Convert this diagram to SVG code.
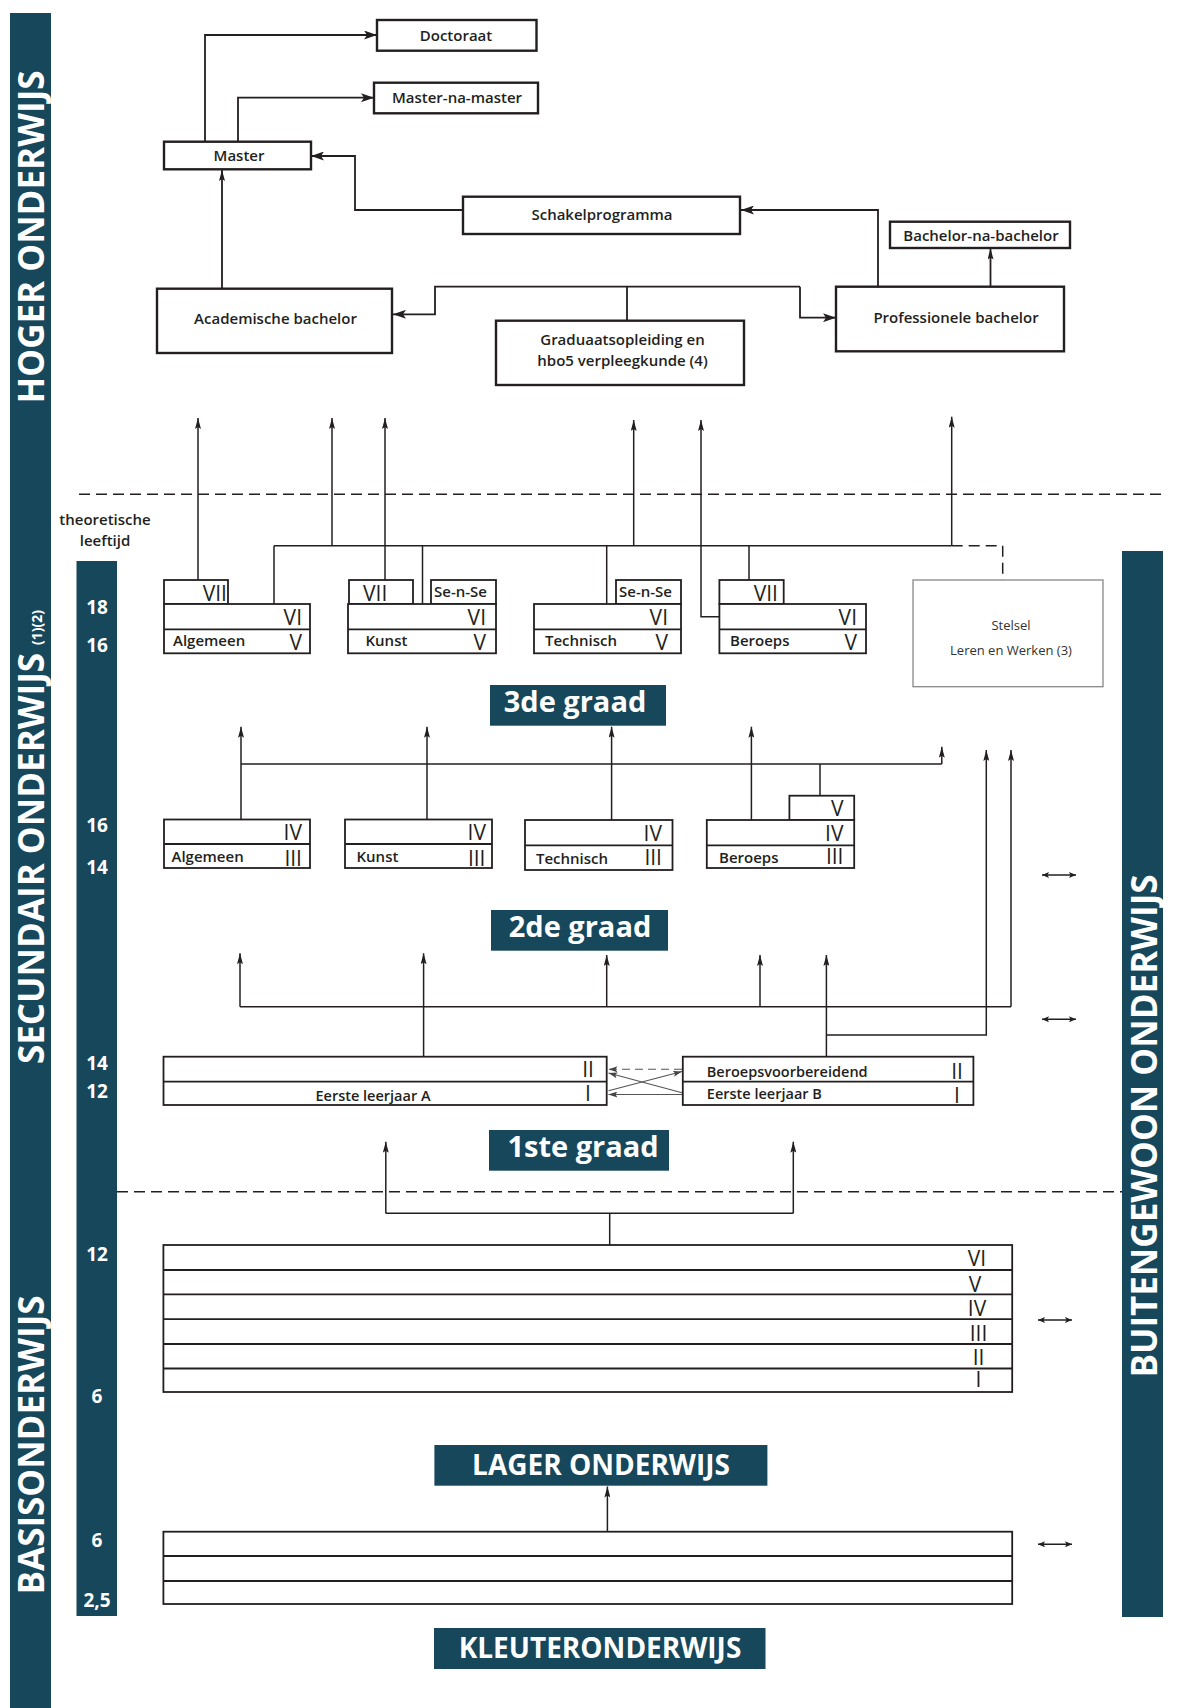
<svg xmlns="http://www.w3.org/2000/svg" width="1177" height="1708" viewBox="0 0 1177 1708">
<defs>
<style>
.bar{fill:#17475b}
.side{font-family:"Open Sans","Liberation Sans",sans-serif;font-weight:700;font-size:35px;fill:#fff}
.age{font-family:"Open Sans","Liberation Sans",sans-serif;font-weight:700;font-size:19px;fill:#fff;text-anchor:middle}
.big{font-family:"Open Sans","Liberation Sans",sans-serif;font-weight:700;font-size:29px;fill:#fff;text-anchor:middle}
.cap{font-family:"Open Sans","Liberation Sans",sans-serif;font-weight:700;font-size:28px;fill:#fff;text-anchor:middle}
.t{font-family:"Open Sans","Liberation Sans",sans-serif;font-weight:600;font-size:15px;fill:#231f20}
.tm{text-anchor:middle}
.s14{font-size:14.5px}
.rn{font-family:"Open Sans","Liberation Sans",sans-serif;font-weight:400;font-size:21px;fill:#231f20}
.re{text-anchor:end}
.box{fill:#fff;stroke:#231f20;stroke-width:1.8}
.bx2{fill:#fff;stroke:#231f20;stroke-width:2.4}
.ln{fill:none;stroke:#231f20;stroke-width:1.5}
.lt{fill:none;stroke:#231f20;stroke-width:1.8}
.dash{fill:none;stroke:#231f20;stroke-width:1.5;stroke-dasharray:11 6}
.gr{fill:none;stroke:#555;stroke-width:1.1}
.st{font-family:"Open Sans","Liberation Sans",sans-serif;font-weight:400;font-size:13px;fill:#333;text-anchor:middle}
</style>
<marker id="a" viewBox="0 0 13 9" refX="13" refY="4.5" markerWidth="13" markerHeight="9" markerUnits="userSpaceOnUse" orient="auto"><path d="M0,0 L13,4.5 L0,9 L3,4.5 z" fill="#231f20"/></marker>
<marker id="s" viewBox="0 0 11 6" refX="11" refY="3" markerWidth="11" markerHeight="6" markerUnits="userSpaceOnUse" orient="auto"><path d="M0,0 L11,3 L0,6 L2,3 z" fill="#231f20"/></marker>
<marker id="d" viewBox="0 0 7 6" refX="7" refY="3" markerWidth="7" markerHeight="6" markerUnits="userSpaceOnUse" orient="auto-start-reverse"><path d="M0,0 L7,3 L0,6 L1.5,3 z" fill="#231f20"/></marker>
<marker id="g" viewBox="0 0 9 6" refX="9" refY="3" markerWidth="9" markerHeight="6" markerUnits="userSpaceOnUse" orient="auto"><path d="M0,0 L9,3 L0,6 L2,3 z" fill="#444"/></marker>
</defs>
<rect width="1177" height="1708" fill="#fff"/>

<g id="bars">
<rect class="bar" x="10" y="13" width="41" height="1695"/>
<rect class="bar" x="76.5" y="561" width="40.5" height="1055"/>
<rect class="bar" x="1122" y="551" width="41" height="1066"/>
<text class="side" transform="translate(44,237) rotate(-90)" text-anchor="middle">HOGER ONDERWIJS</text>
<text class="side" transform="translate(44,837) rotate(-90)" text-anchor="middle">SECUNDAIR ONDERWIJS<tspan font-size="14" dx="8" dy="-2">(1)(2)</tspan></text>
<text class="side" transform="translate(44,1445) rotate(-90)" text-anchor="middle">BASISONDERWIJS</text>
<text class="side" transform="translate(1157,1126) rotate(-90)" text-anchor="middle">BUITENGEWOON ONDERWIJS</text>
</g>

<g id="ages">
<text class="t tm" x="105" y="525" font-size="14">theoretische</text>
<text class="t tm" x="105" y="546" font-size="14">leeftijd</text>
<text class="age" x="97" y="613.5">18</text>
<text class="age" x="97" y="651.5">16</text>
<text class="age" x="97" y="832">16</text>
<text class="age" x="97" y="874">14</text>
<text class="age" x="97" y="1070">14</text>
<text class="age" x="97" y="1098">12</text>
<text class="age" x="97" y="1260.5">12</text>
<text class="age" x="97" y="1403">6</text>
<text class="age" x="97" y="1546.5">6</text>
<text class="age" x="97" y="1606.5">2,5</text>
</g>

<g id="connectors">
<line class="dash" x1="79" y1="494.3" x2="1165" y2="494.3"/>
<line class="dash" x1="117" y1="1191.7" x2="1122" y2="1191.7"/>
<polyline class="lt" points="205,141.7 205,35 377,35" marker-end="url(#a)"/>
<polyline class="lt" points="238,141.7 238,97.7 374,97.7" marker-end="url(#a)"/>
<polyline class="lt" points="463,210 355,210 355,156 311,156" marker-end="url(#a)"/>
<line class="lt" x1="222" y1="288.7" x2="222" y2="170" marker-end="url(#s)"/>
<polyline class="lt" points="878,286.7 878,210 741,210" marker-end="url(#a)"/>
<line class="lt" x1="990.5" y1="286.7" x2="990.5" y2="248.5" marker-end="url(#s)"/>
<line class="lt" x1="627" y1="320.7" x2="627" y2="286.7"/>
<polyline class="lt" points="800,286.7 435,286.7 435,314.3 393,314.3" marker-end="url(#a)"/>
<polyline class="lt" points="800,286.7 800,317.7 836,317.7" marker-end="url(#a)"/>
<line class="ln" x1="274" y1="545.7" x2="951.7" y2="545.7"/>
<line class="ln" x1="274" y1="545.7" x2="274" y2="604"/>
<line class="ln" x1="422.5" y1="545.7" x2="422.5" y2="604"/>
<line class="ln" x1="606.7" y1="545.7" x2="606.7" y2="604"/>
<line class="ln" x1="749" y1="545.7" x2="749" y2="580"/>
<line class="ln" x1="198" y1="580" x2="198" y2="418" marker-end="url(#s)"/>
<line class="ln" x1="332" y1="545.7" x2="332" y2="418" marker-end="url(#s)"/>
<line class="ln" x1="385" y1="580" x2="385" y2="418" marker-end="url(#s)"/>
<line class="ln" x1="633.7" y1="545.7" x2="633.7" y2="420" marker-end="url(#s)"/>
<polyline class="ln" points="719.4,616.7 701,616.7 701,420" marker-end="url(#s)"/>
<line class="ln" x1="951.7" y1="545.7" x2="951.7" y2="416.7" marker-end="url(#s)"/>
<polyline class="dash" points="951.7,545.7 1002.7,545.7 1002.7,580"/>
<line class="ln" x1="241" y1="764" x2="941.8" y2="764"/>
<line class="ln" x1="941.8" y1="764" x2="941.8" y2="746.7" marker-end="url(#s)"/>
<line class="ln" x1="241" y1="820" x2="241" y2="726.7" marker-end="url(#s)"/>
<line class="ln" x1="427" y1="820" x2="427" y2="726.7" marker-end="url(#s)"/>
<line class="ln" x1="611.6" y1="820" x2="611.6" y2="726.7" marker-end="url(#s)"/>
<line class="ln" x1="751.4" y1="820" x2="751.4" y2="726.7" marker-end="url(#s)"/>
<line class="ln" x1="820" y1="764" x2="820" y2="795.7"/>
<line class="ln" x1="240" y1="1006.7" x2="1011" y2="1006.7"/>
<line class="ln" x1="240" y1="1006.7" x2="240" y2="953.3" marker-end="url(#s)"/>
<line class="ln" x1="423.6" y1="1056.7" x2="423.6" y2="953.3" marker-end="url(#s)"/>
<line class="ln" x1="606.7" y1="1006.7" x2="606.7" y2="955" marker-end="url(#s)"/>
<line class="ln" x1="760" y1="1006.7" x2="760" y2="955" marker-end="url(#s)"/>
<line class="ln" x1="826.4" y1="1056.7" x2="826.4" y2="955" marker-end="url(#s)"/>
<line class="ln" x1="1011" y1="1006.7" x2="1011" y2="750" marker-end="url(#s)"/>
<polyline class="ln" points="826.4,1035 986.3,1035 986.3,750" marker-end="url(#s)"/>
<line class="gr" x1="682" y1="1069.3" x2="608.5" y2="1069.3" stroke-dasharray="8 5" marker-end="url(#g)"/>
<line class="gr" x1="682" y1="1092.7" x2="608.5" y2="1073" marker-end="url(#g)"/>
<line class="gr" x1="608.5" y1="1090.7" x2="682" y2="1071.5" marker-end="url(#g)"/>
<line class="gr" x1="682" y1="1094.5" x2="608.5" y2="1094.5" marker-end="url(#g)"/>
<line class="ln" x1="385.8" y1="1213.3" x2="793.3" y2="1213.3"/>
<line class="ln" x1="385.8" y1="1213.3" x2="385.8" y2="1141.7" marker-end="url(#s)"/>
<line class="ln" x1="793.3" y1="1213.3" x2="793.3" y2="1141.7" marker-end="url(#s)"/>
<line class="ln" x1="609.7" y1="1213.3" x2="609.7" y2="1245"/>
<line class="ln" x1="607.4" y1="1531.7" x2="607.4" y2="1486.5" marker-end="url(#s)"/>
<line class="ln" x1="1042" y1="875" x2="1076" y2="875" marker-start="url(#d)" marker-end="url(#d)"/>
<line class="ln" x1="1042" y1="1019.3" x2="1076" y2="1019.3" marker-start="url(#d)" marker-end="url(#d)"/>
<line class="ln" x1="1038" y1="1320" x2="1072" y2="1320" marker-start="url(#d)" marker-end="url(#d)"/>
<line class="ln" x1="1038" y1="1544.3" x2="1072" y2="1544.3" marker-start="url(#d)" marker-end="url(#d)"/>
</g>

<g id="doctoraat"><rect class="bx2" x="377" y="20" width="159.5" height="30.7"/><text class="t tm" x="456" y="40.5">Doctoraat</text></g>
<g id="master-na-master"><rect class="bx2" x="374" y="82.7" width="164" height="30.6"/><text class="t tm" x="457" y="102.5">Master-na-master</text></g>
<g id="master"><rect class="bx2" x="164" y="141.7" width="147" height="27.6"/><text class="t tm" x="239" y="161">Master</text></g>
<g id="schakelprogramma"><rect class="bx2" x="463" y="196.7" width="277" height="37.3"/><text class="t tm" x="602" y="220">Schakelprogramma</text></g>
<g id="bachelor-na-bachelor"><rect class="bx2" x="890" y="221.7" width="180" height="26.3"/><text class="t tm" x="981" y="240.5">Bachelor-na-bachelor</text></g>
<g id="academische-bachelor"><rect class="bx2" x="157" y="288.7" width="235" height="64.3"/><text class="t tm" x="275.5" y="323.5">Academische bachelor</text></g>
<g id="graduaat"><rect class="bx2" x="496" y="320.7" width="248" height="64.3"/><text class="t tm" x="622.5" y="345">Graduaatsopleiding en</text><text class="t tm" x="622.5" y="365.5">hbo5 verpleegkunde (4)</text></g>
<g id="professionele-bachelor"><rect class="bx2" x="836" y="286.7" width="228" height="64.6"/><text class="t tm" x="956" y="322.5">Professionele bachelor</text></g>

<g id="g3-algemeen">
<rect class="box" x="164" y="580" width="64" height="24"/>
<rect class="box" x="164" y="604" width="146" height="49.3"/>
<line class="box" x1="164" y1="629.3" x2="310" y2="629.3"/>
<text class="rn re" x="227" y="601">VII</text>
<text class="rn re" x="302" y="625">VI</text>
<text class="rn re" x="302" y="650">V</text>
<text class="t" x="173" y="646">Algemeen</text>
</g>
<g id="g3-kunst">
<rect class="box" x="349" y="580" width="64" height="24"/>
<rect class="box" x="431" y="580" width="65" height="24"/>
<rect class="box" x="348" y="604" width="148" height="49.3"/>
<line class="box" x1="348" y1="629.3" x2="496" y2="629.3"/>
<text class="rn" x="363" y="601">VII</text>
<text class="t" x="434" y="597" font-size="15.5">Se-n-Se</text>
<text class="rn re" x="486" y="625">VI</text>
<text class="rn re" x="486" y="650">V</text>
<text class="t" x="365.5" y="646">Kunst</text>
</g>
<g id="g3-technisch">
<rect class="box" x="616" y="580" width="65" height="24"/>
<rect class="box" x="534" y="604" width="147" height="49.3"/>
<line class="box" x1="534" y1="629.3" x2="681" y2="629.3"/>
<text class="t" x="619" y="597" font-size="15.5">Se-n-Se</text>
<text class="rn re" x="668" y="625">VI</text>
<text class="rn re" x="668" y="650">V</text>
<text class="t" x="545" y="646">Technisch</text>
</g>
<g id="g3-beroeps">
<rect class="box" x="719.4" y="580" width="64.3" height="24"/>
<rect class="box" x="719.4" y="604" width="146.6" height="49.3"/>
<line class="box" x1="719.4" y1="629.3" x2="866" y2="629.3"/>
<text class="rn re" x="778" y="601">VII</text>
<text class="rn re" x="857" y="625">VI</text>
<text class="rn re" x="857" y="650">V</text>
<text class="t" x="730" y="646">Beroeps</text>
</g>
<g id="stelsel">
<rect x="913" y="580" width="190" height="106.7" fill="#fff" stroke="#888" stroke-width="1.3"/>
<text class="st" x="1011" y="629.5">Stelsel</text>
<text class="st" x="1011" y="654.5">Leren en Werken (3)</text>
</g>
<g id="label-3de"><rect class="bar" x="490" y="685" width="176" height="40.7"/><text class="big" x="575" y="712">3de graad</text></g>

<g id="g2-algemeen">
<rect class="box" x="164" y="819.5" width="146" height="48.5"/>
<line class="box" x1="164" y1="844" x2="310" y2="844"/>
<text class="rn re" x="302" y="839.5">IV</text>
<text class="rn re" x="302" y="865.5">III</text>
<text class="t" x="171.5" y="862">Algemeen</text>
</g>
<g id="g2-kunst">
<rect class="box" x="345" y="819.5" width="147" height="48.5"/>
<line class="box" x1="345" y1="844" x2="492" y2="844"/>
<text class="rn re" x="486" y="839.5">IV</text>
<text class="rn re" x="485.5" y="865.5">III</text>
<text class="t" x="356.5" y="862">Kunst</text>
</g>
<g id="g2-technisch">
<rect class="box" x="525" y="820" width="147.5" height="50"/>
<line class="box" x1="525" y1="845.3" x2="672.5" y2="845.3"/>
<text class="rn re" x="662" y="841">IV</text>
<text class="rn re" x="662" y="865">III</text>
<text class="t" x="536" y="864">Technisch</text>
</g>
<g id="g2-beroeps">
<rect class="box" x="789.4" y="795.7" width="64.8" height="24.3"/>
<rect class="box" x="706.8" y="820" width="147.4" height="48"/>
<line class="box" x1="706.8" y1="845.3" x2="854.2" y2="845.3"/>
<text class="rn re" x="843.5" y="816">V</text>
<text class="rn re" x="843.5" y="841">IV</text>
<text class="rn re" x="843.5" y="864">III</text>
<text class="t" x="719" y="863">Beroeps</text>
</g>
<g id="label-2de"><rect class="bar" x="491" y="910" width="177" height="40.7"/><text class="big" x="580" y="937">2de graad</text></g>

<g id="g1-a">
<rect class="box" x="163.5" y="1056.7" width="443.2" height="48.3"/>
<line class="box" x1="163.5" y1="1081.7" x2="606.7" y2="1081.7"/>
<text class="rn tm" x="588" y="1077">II</text>
<text class="rn tm" x="588" y="1101">I</text>
<text class="t tm s14" x="373" y="1100.5">Eerste leerjaar A</text>
</g>
<g id="g1-b">
<rect class="box" x="682.8" y="1056.7" width="290.6" height="48.3"/>
<line class="box" x1="682.8" y1="1081.7" x2="973.4" y2="1081.7"/>
<text class="rn tm" x="957" y="1079">II</text>
<text class="rn tm" x="957" y="1102.5">I</text>
<text class="t s14" x="706.8" y="1077">Beroepsvoorbereidend</text>
<text class="t s14" x="706.8" y="1099">Eerste leerjaar B</text>
</g>
<g id="label-1ste"><rect class="bar" x="489" y="1130" width="180" height="40.7"/><text class="big" x="583" y="1157">1ste graad</text></g>

<g id="lager">
<rect class="box" x="163.4" y="1245" width="848.8" height="147"/>
<line class="box" x1="163.4" y1="1270" x2="1012.2" y2="1270"/>
<line class="box" x1="163.4" y1="1294.4" x2="1012.2" y2="1294.4"/>
<line class="box" x1="163.4" y1="1319.2" x2="1012.2" y2="1319.2"/>
<line class="box" x1="163.4" y1="1344" x2="1012.2" y2="1344"/>
<line class="box" x1="163.4" y1="1368.5" x2="1012.2" y2="1368.5"/>
<text class="rn tm" x="977" y="1266">VI</text>
<text class="rn tm" x="975" y="1292">V</text>
<text class="rn tm" x="977" y="1316">IV</text>
<text class="rn tm" x="978.5" y="1340.5">III</text>
<text class="rn tm" x="978.5" y="1364.5">II</text>
<text class="rn tm" x="978.5" y="1387">I</text>
</g>
<g id="label-lager"><rect class="bar" x="434.4" y="1445" width="333" height="40.7"/><text class="cap" x="601" y="1475">LAGER ONDERWIJS</text></g>

<g id="kleuter">
<rect class="box" x="163.4" y="1531.7" width="848.8" height="72.3"/>
<line class="box" x1="163.4" y1="1556" x2="1012.2" y2="1556"/>
<line class="box" x1="163.4" y1="1581" x2="1012.2" y2="1581"/>
</g>
<g id="label-kleuter"><rect class="bar" x="434" y="1628" width="331.5" height="41"/><text class="cap" x="600" y="1658">KLEUTERONDERWIJS</text></g>
</svg>
